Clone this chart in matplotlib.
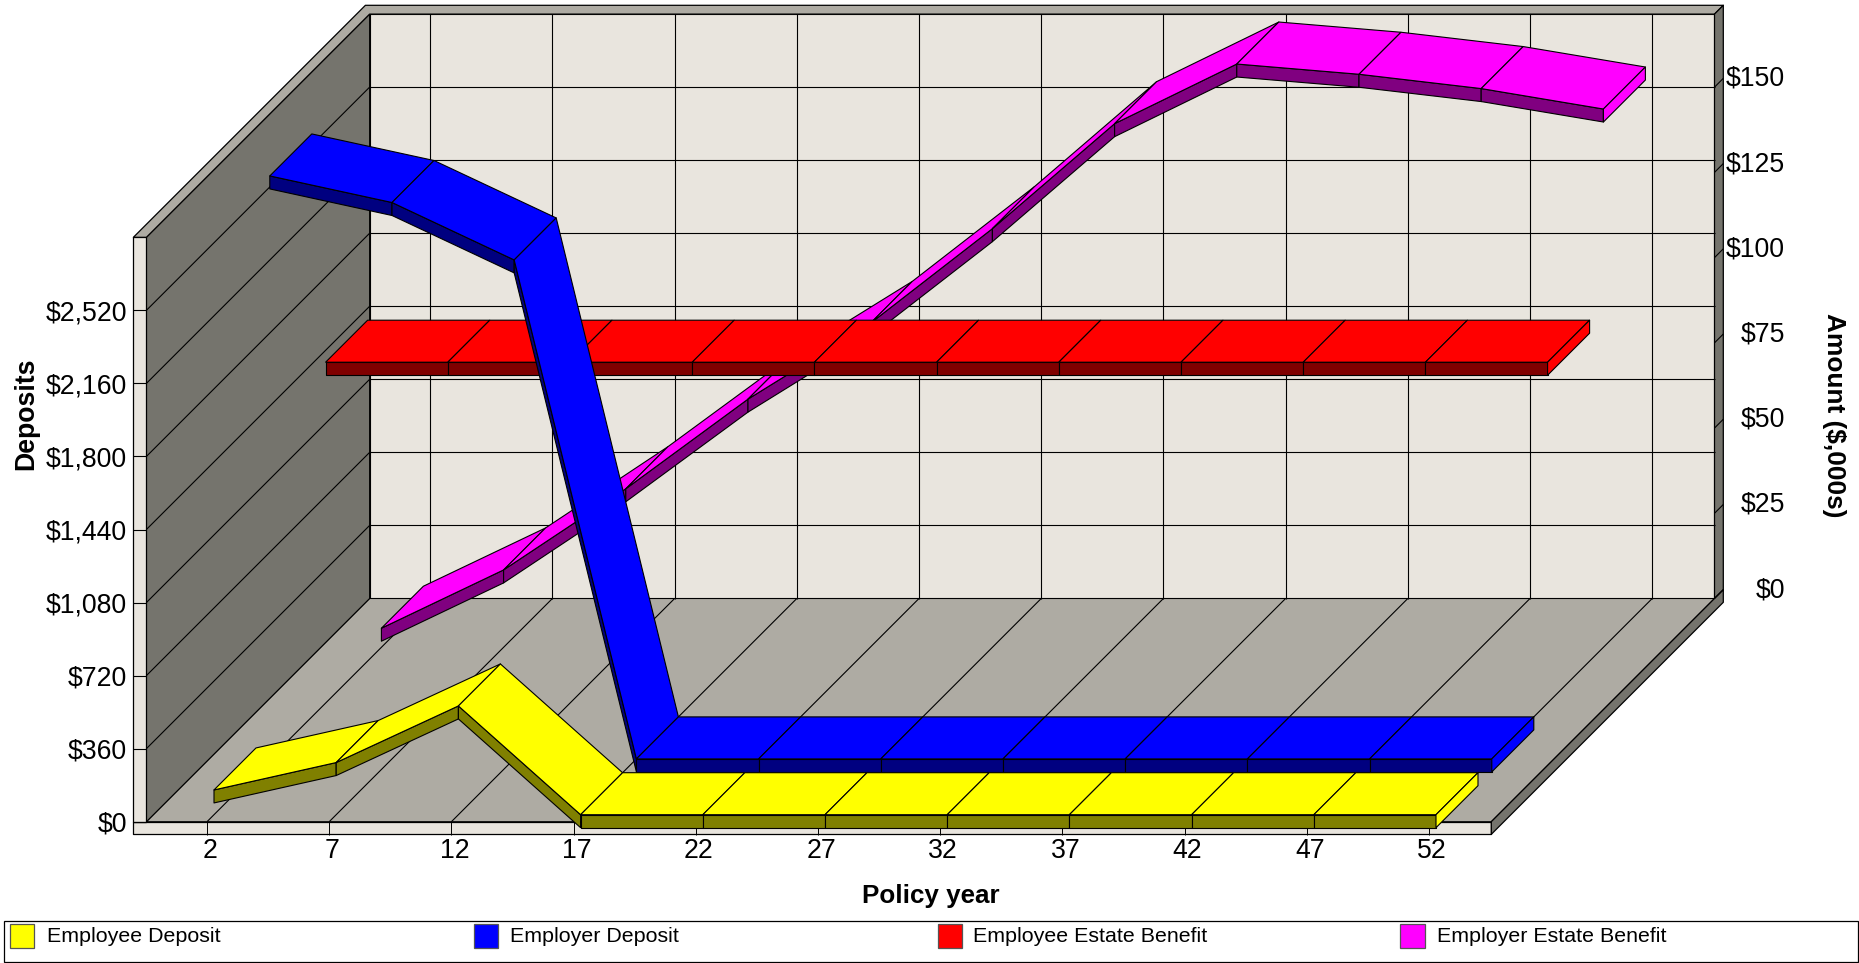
import matplotlib
matplotlib.use("Agg")
import matplotlib.pyplot as plt
from matplotlib.patches import Polygon, Rectangle
from matplotlib.transforms import ScaledTranslation

plt.rcParams['font.family'] = ['Liberation Sans', 'DejaVu Sans']

# ---- data ----
years = [2, 7, 12, 17, 22, 27, 32, 37, 42, 47, 52]
deposit_ticks = [0, 360, 720, 1080, 1440, 1800, 2160, 2520]
amount_ticks = [0, 25, 50, 75, 100, 125, 150]
employee_deposit = [122, 257, 536, 0, 0, 0, 0, 0, 0, 0, 0]
employer_deposit = [2873, 2742, 2459, 0, 0, 0, 0, 0, 0, 0, 0]
employee_estate = [100, 100, 100, 100, 100, 100, 100, 100, 100, 100, 100]
employer_estate = [5.6, 22.7, 46.5, 72.8, 95, 122.8, 153.6, 171.1, 168.1, 163.9, 157.9]
legend_labels = ['Employee Deposit', 'Employer Deposit', 'Employee Estate Benefit', 'Employer Estate Benefit']

# ---- colours ----
WALL = '#E9E5DE'
FLOOR = '#AEABA3'
SIDE = '#75746D'
LEG_COLORS = ['#FFFF00', '#0000FF', '#FF0000', '#FF00FF']
DARK_COLORS = ['#808000', '#000080', '#800000', '#800080']

W, H = 1859, 963
fig = plt.figure(figsize=(W / 100, H / 100), dpi=100, facecolor='white')


def fx(px):
    return px / W


def fy(py):
    return 1 - py / H


# front plane of the 3-D box, in pixels
L, R, B, T = 146.4, 1491.3, 821.7, 237.3
ax = fig.add_axes([fx(L), fy(B), fx(R - L), (B - T) / H])
PX_PER_YEAR = 122.2 / 5
x0 = 2 + (L - 207) / PX_PER_YEAR
x1 = 2 + (R - 207) / PX_PER_YEAR
TOP_VAL = 2880
ax.set_xlim(x0, x1)
ax.set_ylim(0, TOP_VAL)
ax.patch.set_visible(False)
for s in ax.spines.values():
    s.set_visible(False)

kx = 1 / PX_PER_YEAR
ky = TOP_VAL / (B - T)
AMT_TO_DEP = 16.8
DEPTH = 223.2
OUTER = 232.0
RIM_W = 13.0
RIM_H = 12.6
THICK = 13.0
LW = 0.8


def P(year, val, depth=0.0):
    return (year + depth * kx, val + depth * ky)


def poly(points, fc, ec='black', lw=LW, z=1):
    ax.add_patch(Polygon(points, closed=True, facecolor=fc, edgecolor=ec, linewidth=lw,
                         clip_on=False, zorder=z, joinstyle='round'))


def line(a, b, z=2, color='black', lw=LW):
    ax.plot([a[0], b[0]], [a[1], b[1]], color=color, lw=lw, clip_on=False, zorder=z,
            solid_capstyle='butt')


xl_rim = x0 - RIM_W * kx
low = -RIM_H * ky

# walls
poly([P(x0, 0, DEPTH), P(x1, 0, DEPTH), P(x1, TOP_VAL, DEPTH), P(x0, TOP_VAL, DEPTH)], WALL, lw=0.8)
poly([P(x0, 0), P(x1, 0), P(x1, 0, DEPTH), P(x0, 0, DEPTH)], FLOOR, lw=0.8)
poly([P(x0, 0), P(x0, 0, DEPTH), P(x0, TOP_VAL, DEPTH), P(x0, TOP_VAL)], SIDE, lw=0.8)
# rims
poly([P(xl_rim, low), P(x1, low), P(x1, 0), P(xl_rim, 0)], WALL, lw=0.9)
poly([P(xl_rim, 0), P(x0, 0), P(x0, TOP_VAL), P(xl_rim, TOP_VAL)], WALL, lw=0.9)
poly([P(xl_rim, TOP_VAL), P(x0, TOP_VAL), P(x0, TOP_VAL, DEPTH), P(x1, TOP_VAL, DEPTH),
      P(x1, TOP_VAL, OUTER), P(xl_rim, TOP_VAL, OUTER)], FLOOR, lw=0.9)
poly([P(x1, TOP_VAL, DEPTH), P(x1, TOP_VAL, OUTER), P(x1, 0, OUTER), P(x1, 0, DEPTH)], SIDE, lw=0.9)
poly([P(x1, 0), P(x1, 0, DEPTH), P(x1, 0, OUTER), P(x1, low, OUTER), P(x1, low)], SIDE, lw=0.9)

# grid lines
for yr in years:
    line(P(yr, 0), P(yr, 0, DEPTH))
    line(P(yr, 0, DEPTH), P(yr, TOP_VAL, DEPTH))
for v in deposit_ticks[1:]:
    line(P(x0, v), P(x0, v, DEPTH))
    line(P(x0, v, DEPTH), P(x1, v, DEPTH))
for a in amount_ticks:
    line(P(x1, a * AMT_TO_DEP, DEPTH), P(x1, a * AMT_TO_DEP, OUTER))


def ribbon(values, depth, color, dark, z):
    w = 42.0
    th = THICK * ky
    pts = list(zip(years, values))
    for (ya, va), (yb, vb) in zip(pts[:-1], pts[1:]):
        poly([P(ya, va, depth), P(yb, vb, depth), P(yb, vb - th, depth), P(ya, va - th, depth)], dark, z=z)
        poly([P(ya, va, depth), P(yb, vb, depth), P(yb, vb, depth + w), P(ya, va, depth + w)], color, z=z)
    ye, ve = pts[-1]
    poly([P(ye, ve, depth), P(ye, ve, depth + w), P(ye, ve - th, depth + w), P(ye, ve - th, depth)], color, z=z)


SLOT = 55.8
START = 7.0
ribbon([v * AMT_TO_DEP for v in employer_estate], START + 3 * SLOT, LEG_COLORS[3], DARK_COLORS[3], 3)
ribbon([v * AMT_TO_DEP for v in employee_estate], START + 2 * SLOT, LEG_COLORS[2], DARK_COLORS[2], 4)
ribbon(employer_deposit, START + SLOT, LEG_COLORS[1], DARK_COLORS[1], 5)
ribbon(employee_deposit, START, LEG_COLORS[0], DARK_COLORS[0], 6)

# axes ticks and labels
FS = 19.2
px2pt = 72 / 100
ax.set_xticks(years)
ax.set_xticklabels([str(y) for y in years], fontsize=FS)
ax.set_yticks(deposit_ticks)
ax.set_yticklabels(['${:,}'.format(v) for v in deposit_ticks], fontsize=FS)
ax.tick_params(axis='x', length=RIM_H * px2pt, width=0.7, pad=3, color='black')
ax.tick_params(axis='y', length=RIM_W * px2pt, width=0.8, pad=4.5, color='black')
for lab in ax.get_xticklabels():
    lab.set_transform(lab.get_transform() + ScaledTranslation(3 / 100, 0, fig.dpi_scale_trans))

ax.set_xlabel('Policy year', fontsize=18.7, fontweight='bold')
ax.xaxis.set_label_coords(fx(930.7), fy(896), transform=fig.transFigure)
ax.xaxis.label.set_va('center')
ax.set_ylabel('Deposits', fontsize=19.2, fontweight='bold')
ax.yaxis.set_label_coords(fx(26), fy(414), transform=fig.transFigure)
ax.yaxis.label.set_va('center')

# right-hand amount axis sits on the outer edge of the back wall
ax_r = fig.add_axes([fx(R + OUTER), fy(B - OUTER - 2.5), 0.001, (B - T) / H])
ax_r.patch.set_visible(False)
for s in ax_r.spines.values():
    s.set_visible(False)
ax_r.set_xlim(0, 1)
ax_r.set_ylim(0, TOP_VAL / AMT_TO_DEP)
ax_r.set_xticks([])
ax_r.yaxis.tick_left()
ax_r.set_yticks(amount_ticks)
ax_r.set_yticklabels(['${}'.format(a) for a in amount_ticks], fontsize=FS)
ax_r.tick_params(axis='y', length=0, pad=-(1785 - (R + OUTER)) * px2pt)
for lab in ax_r.get_yticklabels():
    lab.set_ha('right')
ax_r.set_ylabel('Amount ($,000s)', fontsize=18.9, fontweight='bold', rotation=270)
ax_r.yaxis.set_label_coords(fx(1834), fy(415), transform=fig.transFigure)
ax_r.yaxis.label.set_va('center')
ax_r.yaxis.label.set_ha('center')

# legend strip
fig.add_artist(Rectangle((fx(4), fy(962)), fx(1854), (962 - 920.5) / H, transform=fig.transFigure,
                         facecolor='white', edgecolor='black', linewidth=0.9))
swatch_x = [9.8, 473.7, 937.8, 1400.3]
text_x = [46.9, 510, 973, 1437]
for sx, tx, c, lab in zip(swatch_x, text_x, LEG_COLORS, legend_labels):
    fig.add_artist(Rectangle((fx(sx), fy(948.3)), fx(24.4), 24.3 / H, transform=fig.transFigure,
                             facecolor=c, edgecolor='#555555', linewidth=0.9))
    fig.text(fx(tx), fy(936), lab, fontsize=15.4, va='center', ha='left', color='black')

fig.savefig('out.png', dpi=100, facecolor='white')
